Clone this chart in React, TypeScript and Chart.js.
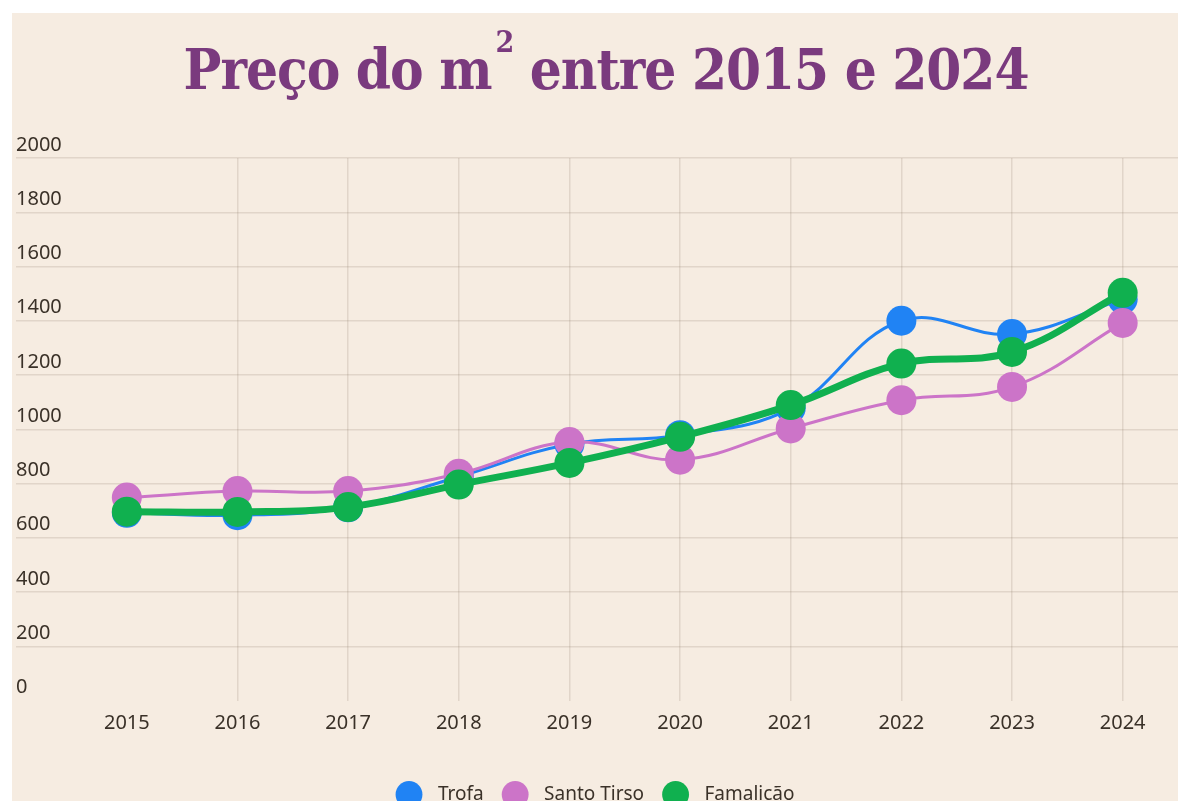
import React, { useEffect, useRef } from "react";
import { Chart, registerables } from "chart.js";

Chart.register(...registerables);

const years = ["2015", "2016", "2017", "2018", "2019", "2020", "2021", "2022", "2023", "2024"];
const trofa = [692, 683, 712, 825, 945, 978, 1077, 1400, 1351, 1479];
const santoTirso = [748, 772, 772, 836, 953, 888, 1003, 1107, 1156, 1392];
const famalicao = [696, 695, 713, 796, 876, 972, 1089, 1242, 1285, 1503];
const seriesNames = ["Trofa", "Santo Tirso", "Famalicão"];
const titleBefore = "Preço do m";
const titleSup = "2";
const titleAfter = " entre 2015 e 2024";

const BG = "#f6ece1";
const GRID = "rgba(110,90,70,0.15)";
const TEXT = "#3a3128";

export default function App() {
  const ref = useRef<HTMLCanvasElement | null>(null);

  useEffect(() => {
    if (!ref.current) return;
    const mk = (label: string, data: number[], color: string, width: number, order: number) => ({
      label,
      data,
      borderColor: color,
      backgroundColor: color,
      pointBackgroundColor: color,
      pointBorderColor: color,
      pointBorderWidth: 0,
      pointRadius: 15,
      pointHoverRadius: 15,
      borderWidth: width,
      tension: 0.4,
      order,
      fill: false,
    });
    const chart = new Chart(ref.current, {
      type: "line",
      data: {
        labels: years,
        datasets: [
          mk(seriesNames[0], trofa, "#2083f4", 3, 2),
          mk(seriesNames[1], santoTirso, "#cc74c8", 3, 1),
          mk(seriesNames[2], famalicao, "#10b04f", 7, 0),
        ],
      },
      options: {
        animation: false,
        responsive: false,
        events: [],
        layout: { autoPadding: false, padding: { left: 4, right: 0, top: 145, bottom: 0 } },
        plugins: {
          title: { display: false },
          legend: {
            position: "bottom",
            labels: {
              usePointStyle: true,
              pointStyle: "circle",
              color: TEXT,
              font: { family: "'Noto Sans', sans-serif", size: 19 },
              padding: 22,
              sort: (a: any, b: any) => a.datasetIndex - b.datasetIndex,
              generateLabels: (c: any) => {
                const items = Chart.defaults.plugins.legend.labels.generateLabels(c);
                return items.map((it: any) => ({ ...it, text: "  " + it.text, lineWidth: 0 }));
              },
            },
          },
          tooltip: { enabled: false },
        },
        scales: {
          x: {
            offset: true,
            border: { display: false },
            grid: {
              drawTicks: false,
              color: (ctx: any) => (ctx.index === 0 ? "rgba(0,0,0,0)" : GRID),
              lineWidth: 1.5,
            },
            ticks: {
              color: TEXT,
              padding: 11,
              font: { family: "'Noto Sans', sans-serif", size: 20 },
              maxRotation: 0,
            },
            afterFit: (s: any) => {
              s.height = 62.5;
              s.paddingLeft = 0;
              s.paddingRight = 0;
            },
          },
          y: {
            min: 0,
            max: 2000,
            border: { display: false },
            grid: {
              tickLength: 55.5,
              color: (ctx: any) => (ctx.tick && ctx.tick.value === 0 ? "rgba(0,0,0,0)" : GRID),
              lineWidth: 1.5,
            },
            ticks: {
              stepSize: 200,
              color: TEXT,
              padding: 0,
              crossAlign: "far",
              labelOffset: -13,
              font: { family: "'Noto Sans', sans-serif", size: 20 },
              callback: (v: any) => String(v),
            },
            afterFit: (s: any) => {
              s.width = 55.5;
            },
          },
        },
      },
    } as any);
    return () => chart.destroy();
  }, []);

  return (
    <div
      style={{
        position: "absolute",
        left: 12,
        top: 13,
        width: 1166,
        height: 788,
        overflow: "hidden",
        background: BG,
      }}
    >
      <canvas ref={ref} width={1166} height={801} style={{ width: 1166, height: 801, display: "block" }} />
      <div
        style={{
          position: "absolute",
          left: 0,
          top: 21,
          width: 1188,
          textAlign: "center",
          fontFamily: "'DejaVu Serif Condensed', 'DejaVu Serif', serif",
          fontWeight: "bold",
          fontSize: 56,
          letterSpacing: "-1px",
          lineHeight: "70px",
          color: "#7a3a7e",
          whiteSpace: "nowrap",
          pointerEvents: "none",
        }}
      >
        {titleBefore}
        <span style={{ fontSize: 30, position: "relative", top: -37, marginLeft: 4 }}>{titleSup}</span>
        {titleAfter}
      </div>
    </div>
  );
}
